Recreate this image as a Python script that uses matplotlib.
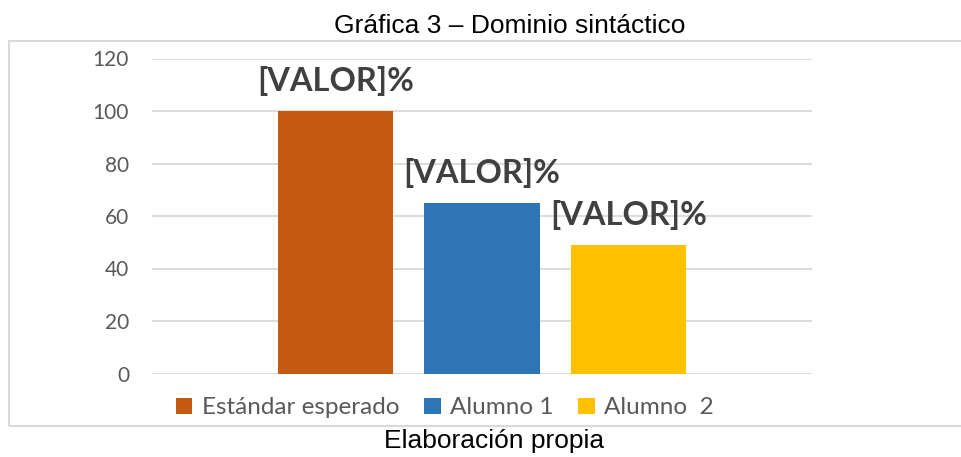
import matplotlib.pyplot as plt
from matplotlib.patches import Rectangle

# Datos de la gráfica
series = ['Estándar esperado', 'Alumno 1', 'Alumno  2']
valores = [100, 65, 49]
etiquetas = ['[VALOR]%', '[VALOR]%', '[VALOR]%']
colores = ['#C55A11', '#2E75B6', '#FFC000']
y_ticks = [0, 20, 40, 60, 80, 100, 120]

fig = plt.figure(figsize=(9.61, 4.57), dpi=100)

# Marco gris del área del gráfico
marco = Rectangle((9 / 961, 1 - 426 / 457), 1.2, (426 - 41) / 457,
                  transform=fig.transFigure, fill=False,
                  edgecolor='#D9D9D9', linewidth=1.5, clip_on=False)
fig.patches.append(marco)

ax = fig.add_axes([152 / 961, 1 - 373.5 / 457, 660 / 961, 315 / 457])

# Barras (una categoría, tres series)
pos = list(range(len(valores)))
for i in pos:
    ax.bar(i, valores[i], width=0.79, color=colores[i], label=series[i], zorder=3)
    ax.annotate(etiquetas[i], (i, valores[i]), xytext=(0, 11), textcoords='offset points',
                ha='center', va='bottom', fontsize=23.5, fontweight='bold',
                family='Lato', color='#404040', zorder=4)

ax.set_xlim(1 - 2.2526, 1 + 2.2526)
ax.set_ylim(0, 120)
ax.set_yticks(y_ticks)
ax.set_xticks([])
ax.tick_params(axis='y', length=0, pad=16.5, labelsize=15, labelcolor='#595959')
for lbl in ax.get_yticklabels():
    lbl.set_family('Lato')
ax.grid(axis='y', color='#D9D9D9', linewidth=1.3, zorder=0)
for s in ax.spines.values():
    s.set_visible(False)

# Leyenda inferior
fig.legend(loc='center', bbox_to_anchor=(445 / 961, 1 - 408 / 457), ncol=3, frameon=False,
           prop={'family': 'Lato', 'size': 17.5}, labelcolor='#595959',
           handlelength=0.68, handleheight=0.68, handletextpad=0.4, columnspacing=1.0)

# Título y fuente
fig.text(510 / 961, 1 - 26 / 457, 'Gráfica 3 – Dominio sintáctico', ha='center', va='center',
         fontsize=19, family='Liberation Sans', color='black')
fig.text(494 / 961, 1 - 441 / 457, 'Elaboración propia', ha='center', va='center',
         fontsize=19, family='Liberation Sans', color='black')

fig.savefig('out.png', dpi=100)
